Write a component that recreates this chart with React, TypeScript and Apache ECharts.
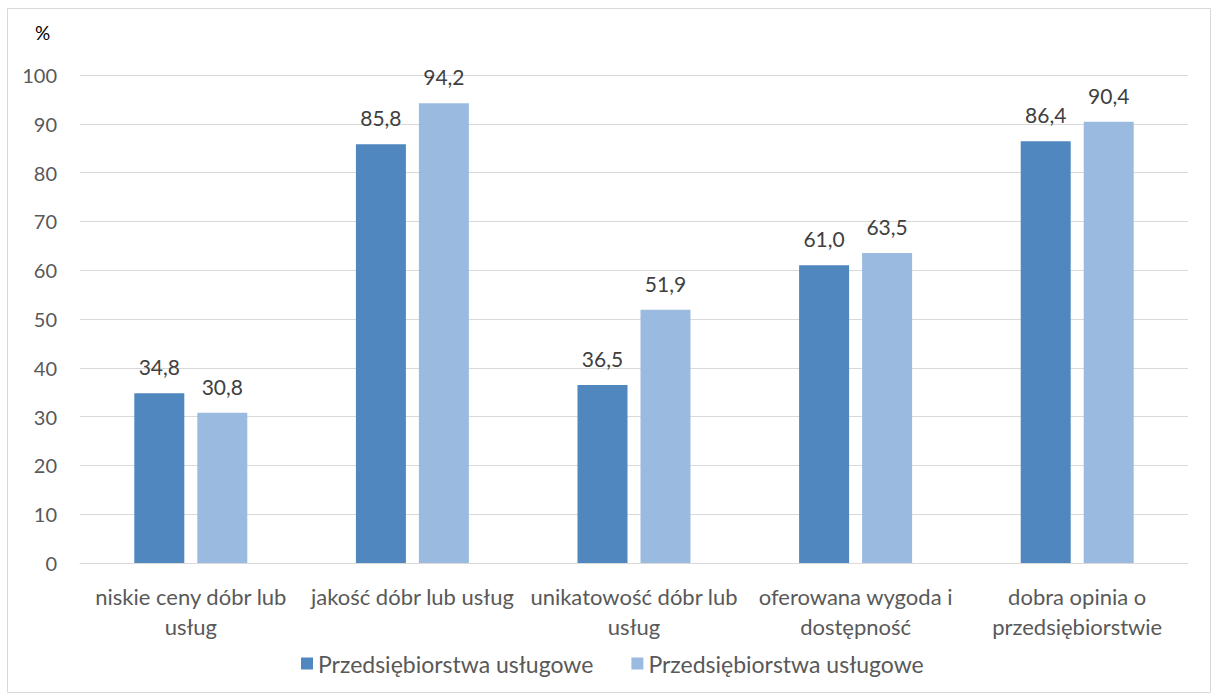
import React, { useEffect, useRef } from "react";
import * as echarts from "echarts";

const categories = [
  "niskie ceny dóbr lub\nusług",
  "jakość dóbr lub usług",
  "unikatowość dóbr lub\nusług",
  "oferowana wygoda i\ndostępność",
  "dobra opinia o\nprzedsiębiorstwie",
];
const seriesNames = ["Przedsiębiorstwa usługowe", "Przedsiębiorstwa usługowe "];
const seriesA = [34.8, 85.8, 36.5, 61.0, 86.4];
const seriesB = [30.8, 94.2, 51.9, 63.5, 90.4];
const yTicks = { min: 0, max: 100, interval: 10 };

const FONT = "Lato";
const TXT = "#595959";

export default function App() {
  const ref = useRef<HTMLDivElement>(null);
  useEffect(() => {
    if (!ref.current) return;
    const chart = echarts.init(ref.current, undefined, { renderer: "svg" });
    const fmt = (p: any) => Number(p.value).toFixed(1).replace(".", ",");
    chart.setOption({
      animation: false,
      textStyle: { fontFamily: FONT },
      graphic: [
        {
          type: "rect",
          shape: { x: 7.5, y: 8.5, width: 1203, height: 684 },
          style: { fill: "none", stroke: "#d9d9d9", lineWidth: 1 },
          silent: true,
        },
        {
          type: "text",
          x: 35,
          y: 23,
          style: { text: "%", fill: "#000", font: `19px ${FONT}` },
        },
      ],
      grid: { left: 80, right: 25, top: 75, bottom: 132, containLabel: false },
      legend: {
        bottom: 15,
        left: 296,
        itemWidth: 12,
        itemHeight: 12,
        itemGap: 38,
        icon: "rect",
        textStyle: { color: TXT, fontSize: 23, fontFamily: FONT },
        data: seriesNames,
      },
      xAxis: {
        type: "category",
        data: categories,
        axisLine: { lineStyle: { color: "#d9d9d9" } },
        axisTick: { show: false },
        axisLabel: {
          color: TXT,
          fontSize: 22,
          lineHeight: 30,
          margin: 18,
          interval: 0,
          fontFamily: FONT,
        },
      },
      yAxis: {
        type: "value",
        min: yTicks.min,
        max: yTicks.max,
        interval: yTicks.interval,
        axisLine: { show: false },
        axisTick: { show: false },
        splitLine: { lineStyle: { color: "#d9d9d9" } },
        axisLabel: { color: TXT, fontSize: 20, margin: 23, fontFamily: FONT },
      },
      series: [
        {
          name: seriesNames[0],
          type: "bar",
          data: seriesA,
          barWidth: 50,
          barGap: "26%",
          itemStyle: { color: "#4f87be" },
          label: {
            show: true,
            position: "top",
            distance: 16,
            formatter: fmt,
            color: "#404040",
            fontSize: 21,
            fontFamily: FONT,
          },
        },
        {
          name: seriesNames[1],
          type: "bar",
          data: seriesB,
          barWidth: 50,
          barGap: "26%",
          itemStyle: { color: "#9bbae0" },
          label: {
            show: true,
            position: "top",
            distance: 16,
            formatter: fmt,
            color: "#404040",
            fontSize: 21,
            fontFamily: FONT,
          },
        },
      ],
    });
    return () => chart.dispose();
  }, []);
  return (
    <div
      ref={ref}
      style={{ position: "absolute", left: 0, top: 0, width: 1213, height: 695, background: "#fff" }}
    />
  );
}
